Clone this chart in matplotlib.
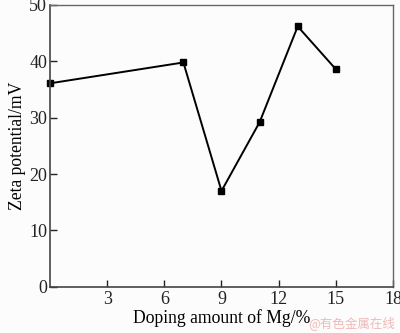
import matplotlib.pyplot as plt

# data
doping = [0, 7, 9, 11, 13, 15]
zeta = [36.1, 39.8, 17.0, 29.2, 46.2, 38.6]
x_ticks = [3, 6, 9, 12, 15, 18]
y_ticks = [0, 10, 20, 30, 40, 50]

plt.rcParams['font.family'] = ['Liberation Serif', 'DejaVu Serif']

fig = plt.figure(figsize=(4, 3.33), dpi=100, facecolor='#fcfcfc')
ax = fig.add_axes([0.125, 0.139, 0.8575, 0.846])
ax.set_facecolor('#fcfcfc')

ax.plot(doping, zeta, color='black', lw=1.4, marker='s', ms=5, clip_on=False)

ax.set_xlim(0, 18)
ax.set_ylim(0, 50)
ax.set_xticks(x_ticks)
ax.set_yticks(y_ticks)
ax.tick_params(direction='in', length=5, width=1, labelsize=13, colors='#222222', pad=3)
ax.tick_params(axis='y', pad=2)

for side in ['left', 'bottom']:
    ax.spines[side].set_color('#444444')
    ax.spines[side].set_linewidth(1.2)
for side in ['top', 'right']:
    ax.spines[side].set_color('#666666')
    ax.spines[side].set_linewidth(1.0)

ax.set_xlabel('Doping amount of Mg/%', fontsize=12.7, labelpad=1)
ax.set_ylabel('Zeta potential/mV', fontsize=12.7, labelpad=2)

fig.text(0.77, 0.03, '@有色金属在线', color='#f0b8b8', fontsize=9,
         family=['Noto Sans CJK SC', 'DejaVu Sans'], va='center')

fig.savefig('out.png', dpi=100, facecolor=fig.get_facecolor())
